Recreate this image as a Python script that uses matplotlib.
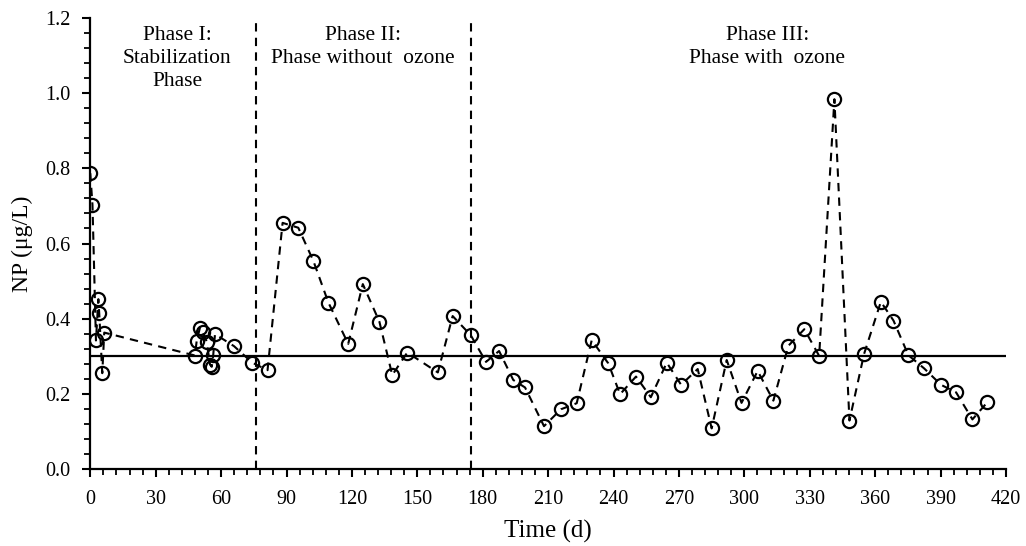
import matplotlib
matplotlib.use("Agg")
import matplotlib.pyplot as plt
from matplotlib.ticker import MultipleLocator, FormatStrFormatter

plt.rcParams['font.family'] = ['Liberation Serif', 'DejaVu Serif']

# Data (time in days, NP in ug/L)
time_d = [0, 1, 2.6, 3.7, 4.1, 5.5, 6.4,
          48.0, 48.8, 50.3, 51.5, 53.4, 54.9, 55.7, 56.4, 57.2,
          65.9, 74.3, 81.3, 88.2, 95.4, 102.3, 109.2, 118.3, 125.0,
          132.6, 138.5, 145.4, 159.4, 166.2, 174.5,
          181.5, 187.5, 194.0, 199.4, 208.1, 215.9, 223.1, 230.0, 237.6,
          243.0, 250.3, 257.1, 264.4, 271.0, 278.6, 285.0, 291.9, 298.7,
          306.1, 313.3, 320.2, 327.5, 334.3, 341.3, 348.2, 354.9, 362.6,
          368.4, 375.2, 382.4, 390.2, 397.1, 404.6, 411.5]
np_ugL = [0.787, 0.703, 0.342, 0.452, 0.414, 0.255, 0.363,
          0.302, 0.341, 0.376, 0.365, 0.339, 0.278, 0.272, 0.304, 0.359,
          0.327, 0.283, 0.263, 0.655, 0.642, 0.554, 0.443, 0.333, 0.492,
          0.392, 0.250, 0.310, 0.257, 0.407, 0.356,
          0.285, 0.314, 0.237, 0.217, 0.114, 0.159, 0.175, 0.343, 0.281,
          0.199, 0.246, 0.191, 0.283, 0.224, 0.266, 0.108, 0.290, 0.176,
          0.261, 0.182, 0.328, 0.372, 0.301, 0.984, 0.129, 0.306, 0.445,
          0.395, 0.303, 0.268, 0.224, 0.204, 0.132, 0.178]

limit_value = 0.3
phase_bounds = [76, 174.6]
phase_labels = ["Phase I:\nStabilization\nPhase",
                "Phase II:\nPhase without  ozone",
                "Phase III:\nPhase with  ozone"]
phase_label_x = [39.8, 124.9, 310.6]

fig = plt.figure(figsize=(10.26, 5.46), dpi=100)
ax = fig.add_axes([0.088, 0.141, 0.8925, 0.826])

ax.plot(time_d, np_ugL, linestyle=(0, (4, 3)), color='black', linewidth=1.5,
        marker='o', markersize=9.5, markerfacecolor='none',
        markeredgecolor='black', markeredgewidth=1.6, zorder=3)
ax.plot([0, 420], [limit_value, limit_value], color='black', linewidth=1.6, zorder=2)
for xb in phase_bounds:
    ax.plot([xb, xb], [0, 1.2], color='black', linewidth=1.5,
            linestyle=(0, (4, 3)), zorder=2)

for lbl, xl in zip(phase_labels, phase_label_x):
    ax.text(xl, 1.180, lbl, ha='center', va='top', fontsize=15.5,
            linespacing=1.3)

ax.set_xlim(0, 420)
ax.set_ylim(0, 1.2)
ax.xaxis.set_major_locator(MultipleLocator(30))
ax.xaxis.set_minor_locator(MultipleLocator(6))
ax.yaxis.set_major_locator(MultipleLocator(0.2))
ax.yaxis.set_minor_locator(MultipleLocator(0.04))
ax.yaxis.set_major_formatter(FormatStrFormatter('%.1f'))

for s in ['top', 'right']:
    ax.spines[s].set_visible(False)
for s in ['left', 'bottom']:
    ax.spines[s].set_linewidth(1.6)

ax.tick_params(which='major', direction='out', length=6, width=1.5,
               labelsize=14.5)
ax.tick_params(axis='x', which='major', pad=9)
ax.tick_params(axis='y', which='major', pad=8)
ax.tick_params(which='minor', direction='out', length=4, width=1.3)

ax.set_xlabel('Time (d)', fontsize=18, labelpad=8)
ax.set_ylabel('NP (μg/L)', fontsize=17, labelpad=9)

fig.savefig('out.png', dpi=100)
